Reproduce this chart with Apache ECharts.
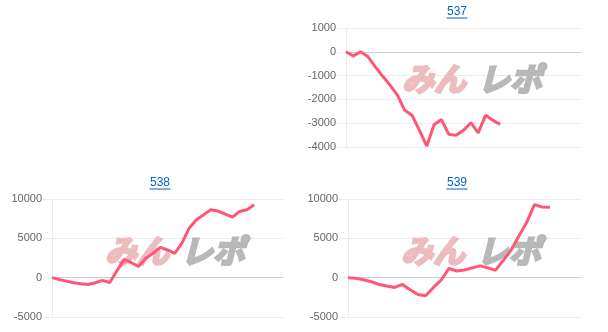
<!DOCTYPE html>
<html>
<head>
<meta charset="utf-8">
<script src="https://cdn.jsdelivr.net/npm/echarts@6/dist/echarts.min.js"></script>
<style>
html,body{margin:0;padding:0;background:#fff;}
#c{width:608px;height:332px;}
</style>
</head>
<body>
<div id="c"></div>
<script>
// ---- data ----
const titles = ['537', '538', '539'];

const cats537 = ['1','2','3','4','5','6','7','8','9','10','11','12','13','14','15','16','17','18','19','20','21','22','23','24','25','26','27','28','29','30','31','32','33'];
const vals537 = [0, -170, 0, -210, -630, -1030, -1400, -1820, -2460, -2670, -3300, -3960, -3050, -2850, -3470, -3510, -3300, -2980, -3410, -2670, -2880, -3050];

const cats538 = ['1','2','3','4','5','6','7','8','9','10','11','12','13','14','15','16','17','18','19','20','21','22','23','24','25','26','27','28','29','30','31','32','33'];
const vals538 = [0, -230, -440, -650, -780, -860, -650, -350, -610, 880, 2330, 1900, 1440, 2460, 3100, 3860, 3520, 3100, 4380, 6290, 7360, 8000, 8640, 8470, 8080, 7700, 8420, 8640, 9280];

const cats539 = ['1','2','3','4','5','6','7','8','9','10','11','12','13','14','15','16','17','18','19','20','21','22','23','24','25','26','27','28','29','30','31'];
const vals539 = [0, -90, -260, -520, -860, -1070, -1240, -860, -1540, -2130, -2300, -1240, -300, 1190, 850, 980, 1250, 1500, 1250, 950, 2200, 3500, 5300, 7000, 9280, 8980, 8940];

const yTicks537 = {min: -4000, max: 1000, interval: 1000};
const yTicks53x = {min: -5000, max: 10000, interval: 5000};

// ---- styles ----
const LINE = '#ff5675';
const GRID = '#ebebeb';
const LABEL = '#666';
const FONT = '"Liberation Sans", Arial, sans-serif';

const grids = [
  {left: 346, top: 28, width: 235, height: 119},
  {left: 52, top: 199, width: 231, height: 118},
  {left: 348, top: 199, width: 233, height: 118}
];
const catsList = [cats537, cats538, cats539];
const valsList = [vals537, vals538, vals539];
const yList = [yTicks537, yTicks53x, yTicks53x];
const titlePos = [[457, 6], [160, 177], [457, 177]];
const wmPos = [[472, 79], [175, 251], [471, 251]];

const xAxes = catsList.map((c, i) => ({
  type: 'category', gridIndex: i, data: c, boundaryGap: false,
  axisLabel: {show: false}, axisTick: {show: false}, splitLine: {show: false},
  axisLine: {show: true, onZero: true, lineStyle: {color: '#cfcfcf', width: 1}}
}));
const yAxes = yList.map((y, i) => ({
  type: 'value', gridIndex: i, min: y.min, max: y.max, interval: y.interval,
  axisLine: {show: true, lineStyle: {color: GRID}},
  axisTick: {show: true, length: 9, lineStyle: {color: GRID}},
  splitLine: {show: true, lineStyle: {color: GRID, width: 1}},
  axisLabel: {color: LABEL, fontSize: 11, fontFamily: FONT, margin: 10, formatter: v => String(v)}
}));
const series = valsList.map((v, i) => ({
  type: 'line', xAxisIndex: i, yAxisIndex: i, data: v,
  showSymbol: false, symbol: 'none', smooth: false,
  lineStyle: {color: LINE, width: 3}, z: 3
}));
const titleComps = titles.map((t, i) => ({
  text: t, left: titlePos[i][0], top: titlePos[i][1], textAlign: 'center', padding: 0,
  textStyle: {color: '#0563c1', fontSize: 12, fontWeight: 'normal', fontFamily: FONT}
}));

const graphics = [];
titles.forEach((t, i) => {
  const cx = titlePos[i][0], ty = titlePos[i][1];
  graphics.push({type: 'line', shape: {x1: cx - 10.5, y1: ty + 12, x2: cx + 10.5, y2: ty + 12},
    style: {stroke: '#0563c1', lineWidth: 1}, z: 10});
  graphics.push({type: 'text', x: wmPos[i][0], y: wmPos[i][1], z: 1, silent: true,
    style: {
      text: '{a|みん}{b|レポ}', align: 'center', verticalAlign: 'middle',
      rich: {
        a: {fill: '#ecbcbf', fontSize: 32, fontWeight: 'bold', fontStyle: 'italic', fontFamily: '"Noto Sans CJK JP"',
            stroke: '#ecbcbf', lineWidth: 2.5},
        b: {fill: '#b8b8b8', fontSize: 32, fontWeight: 'bold', fontStyle: 'italic', fontFamily: '"Noto Sans CJK JP"',
            stroke: '#b8b8b8', lineWidth: 2.5, padding: [0, 0, 0, 12]}
      }
    }});
});

const chart = echarts.init(document.getElementById('c'), null, {renderer: 'canvas'});
chart.setOption({
  animation: false,
  backgroundColor: '#fff',
  title: titleComps,
  grid: grids,
  xAxis: xAxes,
  yAxis: yAxes,
  series: series,
  graphic: graphics
});
</script>
</body>
</html>
